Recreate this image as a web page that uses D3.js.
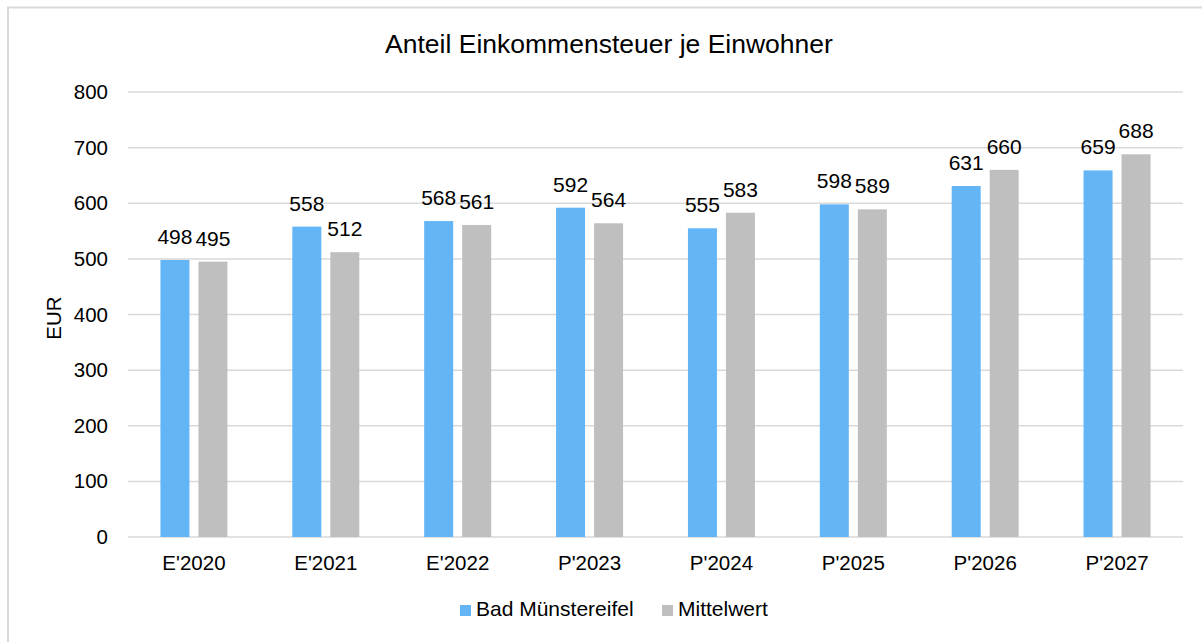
<!DOCTYPE html>
<html>
<head>
<meta charset="utf-8">
<script src="https://cdn.jsdelivr.net/npm/d3@7"></script>
<style>
  body { margin: 0; background: #fff; }
  svg { font-family: "Liberation Sans", Arial, sans-serif; }
</style>
</head>
<body>
<svg width="1202" height="642"></svg>
<script>
var categories = ["E'2020", "E'2021", "E'2022", "P'2023", "P'2024", "P'2025", "P'2026", "P'2027"];
var badMuenstereifel = [498, 558, 568, 592, 555, 598, 631, 659];
var mittelwert = [495, 512, 561, 564, 583, 589, 660, 688];
var seriesNames = ["Bad Münstereifel", "Mittelwert"];
var yTicks = [0, 100, 200, 300, 400, 500, 600, 700, 800];

var colors = ["#63b5f6", "#bfbfbf"];

var svg = d3.select('svg');

// outer frame (only top/left visible in the shot)
svg.append('rect')
    .attr('x', 8).attr('y', 7.5)
    .attr('width', 1210).attr('height', 660)
    .style('fill', 'none')
    .style('stroke', '#d9d9d9')
    .style('stroke-width', 2);

var x = d3.scaleBand().domain(categories).range([128, 1183]);
var y = d3.scaleLinear().domain([0, 800]).range([537, 92]);

var rows = categories.map((c, i) => ({ cat: c, vals: [badMuenstereifel[i], mittelwert[i]] }));

// grid
svg.append('g').selectAll('line')
    .data(yTicks)
    .enter()
        .append('line')
        .attr('x1', 128).attr('x2', 1183)
        .attr('y1', d => y(d)).attr('y2', d => y(d))
        .style('stroke', '#d9d9d9')
        .style('stroke-width', 1.5);

var yAxis = svg.append('g')
    .attr('transform', 'translate(108,0)')
    .call(d3.axisLeft(y).tickValues(yTicks).tickSize(0).tickPadding(0));
yAxis.select('.domain').remove();
yAxis.selectAll('text').style('font-size', '20.5px').style('fill', '#000')
    .attr('font-family', null);

var xAxis = svg.append('g')
    .attr('transform', 'translate(0,537)')
    .call(d3.axisBottom(x).tickSize(0).tickPadding(0));
xAxis.select('.domain').remove();
xAxis.selectAll('text').style('font-size', '20.5px').style('fill', '#000')
    .attr('font-family', null)
    .attr('dy', null)
    .attr('y', 33);

var barW = 29, gap = 9;
var off = [-(gap / 2 + barW), gap / 2];

var groups = svg.append('g').selectAll('g')
    .data(rows)
    .enter()
        .append('g')
        .attr('transform', d => 'translate(' + (x(d.cat) + x.bandwidth() / 2) + ',0)');

groups.selectAll('rect')
    .data(d => d.vals)
    .enter()
        .append('rect')
        .attr('x', (v, i) => off[i])
        .attr('width', barW)
        .attr('y', v => y(v))
        .attr('height', v => y(0) - y(v))
        .style('fill', (v, i) => colors[i]);

groups.selectAll('text')
    .data(d => d.vals)
    .enter()
        .append('text')
        .attr('x', (v, i) => off[i] + barW / 2)
        .attr('y', v => y(v) - 16)
        .attr('text-anchor', 'middle')
        .style('font-size', '21px')
        .text(v => v);

// title
svg.append('text')
    .attr('x', 609).attr('y', 53)
    .attr('text-anchor', 'middle')
    .style('font-size', '26.5px')
    .text('Anteil Einkommensteuer je Einwohner');

// y label
svg.append('text')
    .attr('transform', 'translate(61,318) rotate(-90)')
    .attr('text-anchor', 'middle')
    .style('font-size', '20.5px')
    .text('EUR');

// legend
var legendX = [460, 662];
var legend = svg.append('g').selectAll('g')
    .data(seriesNames)
    .enter()
        .append('g')
        .attr('transform', (d, i) => 'translate(' + legendX[i] + ',616)');
legend.append('rect')
    .attr('x', 0).attr('y', -11).attr('width', 11).attr('height', 11)
    .style('fill', (d, i) => colors[i]);
legend.append('text')
    .attr('x', 16).attr('y', 0)
    .style('font-size', '21px')
    .text(d => d);
</script>
</body>
</html>
